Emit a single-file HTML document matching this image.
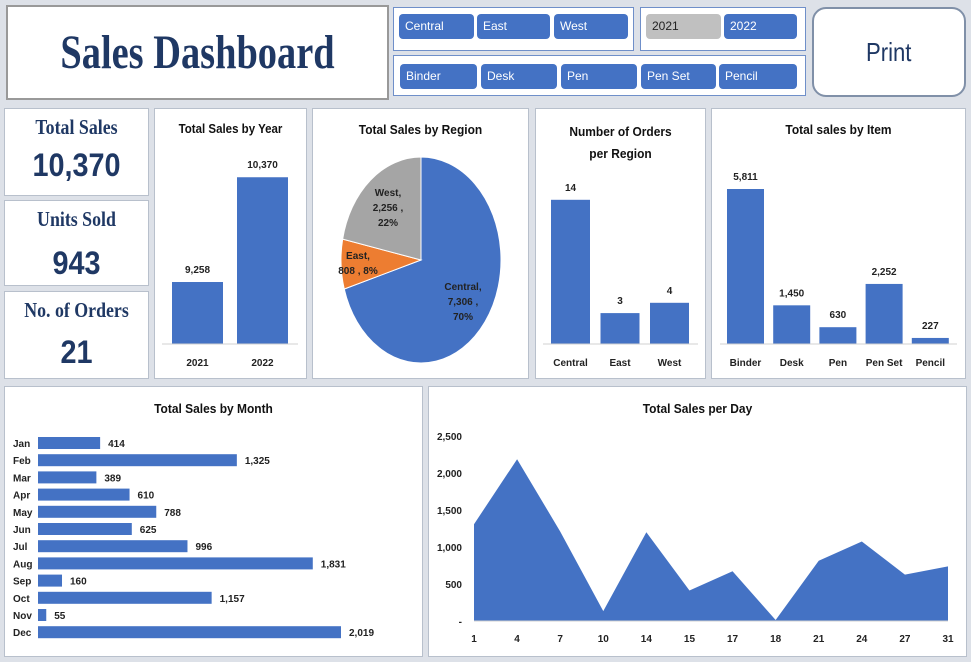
<!DOCTYPE html>
<html><head><meta charset="utf-8"><style>
body{margin:0;width:971px;height:662px;background:#dde1e8;position:relative;overflow:hidden;font-family:"Liberation Sans",sans-serif}
.p{position:absolute;background:#fff;border:1px solid #b8c0cc;box-sizing:border-box}
.btn{position:absolute;background:#4472c4;color:#fff;font-size:12px;line-height:25px;padding-left:6px;box-sizing:border-box;border-radius:4px}
.t{position:absolute;font-weight:bold;font-size:13px;color:#111;text-align:center;transform:scaleX(0.92)}
.kt{position:absolute;left:0;width:100%;text-align:center;font-family:"Liberation Serif",serif;font-weight:bold;color:#1f3864}
svg text{font-family:"Liberation Sans",sans-serif;font-size:10px;font-weight:bold;fill:#222}
</style></head><body>
<div class="p" style="left:6px;top:5px;width:383px;height:95px;border:2px solid #999">
<div style="position:absolute;left:0;width:100%;top:18px;text-align:center;font-family:'Liberation Serif',serif;font-weight:bold;font-size:48px;color:#1f3864;transform:scaleX(0.8)">Sales Dashboard</div></div>
<div class="p" style="left:393px;top:7px;width:241px;height:44px;border-color:#6f8fc9"></div>
<div class="btn" style="left:399px;top:14px;width:75px;height:25px">Central</div>
<div class="btn" style="left:477px;top:14px;width:73px;height:25px">East</div>
<div class="btn" style="left:554px;top:14px;width:74px;height:25px">West</div>
<div class="p" style="left:640px;top:7px;width:166px;height:44px;border-color:#6f8fc9"></div>
<div class="btn" style="left:646px;top:14px;width:75px;height:25px;background:#c0c0c0;color:#222">2021</div>
<div class="btn" style="left:724px;top:14px;width:73px;height:25px">2022</div>
<div class="p" style="left:393px;top:55px;width:413px;height:41px;border-color:#6f8fc9"></div>
<div class="btn" style="left:400px;top:64px;width:77px;height:25px">Binder</div>
<div class="btn" style="left:481px;top:64px;width:76px;height:25px">Desk</div>
<div class="btn" style="left:561px;top:64px;width:76px;height:25px">Pen</div>
<div class="btn" style="left:641px;top:64px;width:75px;height:25px">Pen Set</div>
<div class="btn" style="left:719px;top:64px;width:78px;height:25px">Pencil</div>
<div class="p" style="left:812px;top:7px;width:154px;height:90px;border:2px solid #8090a8;border-radius:14px;text-align:center;line-height:86px;font-size:26px;color:#1f3864"><span style="display:inline-block;transform:scaleX(0.85)">Print</span></div>

<div class="p" style="left:4px;top:108px;width:145px;height:88px"><div class="kt" style="top:6px;font-size:21px;transform:scaleX(0.85)">Total Sales</div><div class="kt" style="top:38px;font-size:32px;font-family:'Liberation Sans',sans-serif;transform:scaleX(0.9)">10,370</div></div>
<div class="p" style="left:4px;top:200px;width:145px;height:86px"><div class="kt" style="top:6px;font-size:21px;transform:scaleX(0.85)">Units Sold</div><div class="kt" style="top:44px;font-size:32px;font-family:'Liberation Sans',sans-serif;transform:scaleX(0.9)">943</div></div>
<div class="p" style="left:4px;top:291px;width:145px;height:88px"><div class="kt" style="top:6px;font-size:21px;transform:scaleX(0.85)">No. of Orders</div><div class="kt" style="top:42px;font-size:32px;font-family:'Liberation Sans',sans-serif;transform:scaleX(0.9)">21</div></div>

<div class="p" style="left:154px;top:108px;width:153px;height:271px"></div>
<div class="p" style="left:312px;top:108px;width:217px;height:271px"></div>
<div class="p" style="left:535px;top:108px;width:171px;height:271px"></div>
<div class="p" style="left:711px;top:108px;width:255px;height:271px"></div>
<div class="p" style="left:4px;top:386px;width:419px;height:271px"></div>
<div class="p" style="left:428px;top:386px;width:539px;height:271px"></div>

<div class="t" style="left:154px;top:122px;width:153px;font-size:12.5px">Total Sales by Year</div>
<div class="t" style="left:312px;top:122px;width:217px">Total Sales by Region</div>
<div class="t" style="left:535px;top:121px;width:171px;line-height:22px">Number of Orders<br>per Region</div>
<div class="t" style="left:711px;top:122px;width:255px">Total sales by Item</div>
<div class="t" style="left:4px;top:401px;width:419px">Total Sales by Month</div>
<div class="t" style="left:428px;top:401px;width:539px">Total Sales per Day</div>

<svg id="s" width="971" height="662" style="position:absolute;left:0;top:0"></svg>
<script>
const yearCats=["2021","2022"];
const yearVals=[9258,10370];
const regionCats=["Central","East","West"];
const regionSales=[7306,808,2256];
const regionPct=["70%","8%","22%"];
const orderVals=[14,3,4];
const itemCats=["Binder","Desk","Pen","Pen Set","Pencil"];
const itemVals=[5811,1450,630,2252,227];
const monthCats=["Jan","Feb","Mar","Apr","May","Jun","Jul","Aug","Sep","Oct","Nov","Dec"];
const monthVals=[414,1325,389,610,788,625,996,1831,160,1157,55,2019];
const dayCats=["1","4","7","10","14","15","17","18","21","24","27","31"];
const dayVals=[1308,2186,1210,134,1200,412,672,13,815,1075,627,739];
const dayTicks=[0,500,1000,1500,2000,2500];

const S=document.getElementById('s');const NS="http://www.w3.org/2000/svg";
function mk(t,a,txt){const e=document.createElementNS(NS,t);for(const k in a)e.setAttribute(k,a[k]);if(txt!==undefined)e.textContent=txt;S.appendChild(e);return e;}
const fmt=v=>v.toLocaleString('en-US');
const BLUE="#4472c4";

function vbars(cats,vals,x0,step,bw,base,scale,min,name,axis){
  cats.forEach((c,i)=>{const x=x0+i*step;const h=(vals[i]-min)*scale;
    let r=mk('rect',{x:x,y:base-h,width:bw,height:h,fill:BLUE});
    
    
    let t=mk('text',{x:x+bw/2,y:base-h-9,'text-anchor':'middle'},fmt(vals[i]));
    
    
    let l=mk('text',{x:x+bw/2,y:base+22,'text-anchor':'middle'},c);
    
    
  });
  let a=mk('line',{x1:axis[0],x2:axis[1],y1:base,y2:base,stroke:'#d0d0d0'});
  
  
}
vbars(yearCats,yearVals,172,65,51,344,179/1900,8600,'year',[162,298]);
vbars(regionCats,orderVals,551,49.5,39,344,10.3,0,'orders',[543,698]);
vbars(itemCats,itemVals,727,46.2,37,344,155/5811,0,'item',[720,957]);

const cx=421,cy=260,rx=80,ry=103;const tot=regionSales.reduce((a,b)=>a+b,0);
const cols=["#4472c4","#ed7d31","#a5a5a5"];let ang=0;
const pieLab=[[463,290],[358,259],[388,196]];
regionCats.forEach((c,i)=>{const a0=ang,a1=ang+regionSales[i]/tot*2*Math.PI;ang=a1;
  const p=a=>[cx+rx*Math.sin(a),cy-ry*Math.cos(a)];const A=p(a0),B=p(a1);
  let s=mk('path',{d:`M${cx},${cy}L${A[0]},${A[1]}A${rx},${ry} 0 ${a1-a0>Math.PI?1:0} 1 ${B[0]},${B[1]}Z`,fill:cols[i],stroke:'#fff','stroke-width':1});
  
  
  let lines=[c+",",fmt(regionSales[i])+" ,",regionPct[i]];
  if(i==1){lines=[c+",",fmt(regionSales[i])+" , "+regionPct[i]];}
  lines.forEach((ln,k)=>{let t=mk('text',{x:pieLab[i][0],y:pieLab[i][1]+k*15,'text-anchor':'middle'},ln);
    
    });
});

const mx0=38,mscale=303/2019;
monthCats.forEach((c,i)=>{const y=443+i*17.2;const w=monthVals[i]*mscale;
  let r=mk('rect',{x:mx0,y:y-6,width:w,height:12,fill:BLUE});
  
  
  let t=mk('text',{x:mx0+w+8,y:y+4},fmt(monthVals[i]));
  
  
  let l=mk('text',{x:13,y:y+4},c);
  
  
});

const dx0=474,dx1=948,dBase=621,dTop=436,dMax=2500;
const X=i=>dx0+i*(dx1-dx0)/(dayCats.length-1);const Y=v=>dBase-v/dMax*(dBase-dTop);
let d=`M${X(0)},${dBase}`;dayVals.forEach((v,i)=>d+=`L${X(i)},${Y(v)}`);d+=`L${X(dayVals.length-1)},${dBase}Z`;
let ar=mk('path',{d:d,fill:BLUE});


let ax=mk('line',{x1:dx0,x2:dx1,y1:dBase,y2:dBase,stroke:'#d0d0d0'});


dayTicks.forEach(v=>{let t=mk('text',{x:462,y:Y(v)+4,'text-anchor':'end'},v===0?'-':fmt(v));
  
  });
dayCats.forEach((c,i)=>{let t=mk('text',{x:X(i),y:642,'text-anchor':'middle'},c);
  
  });
</script>
</body></html>
